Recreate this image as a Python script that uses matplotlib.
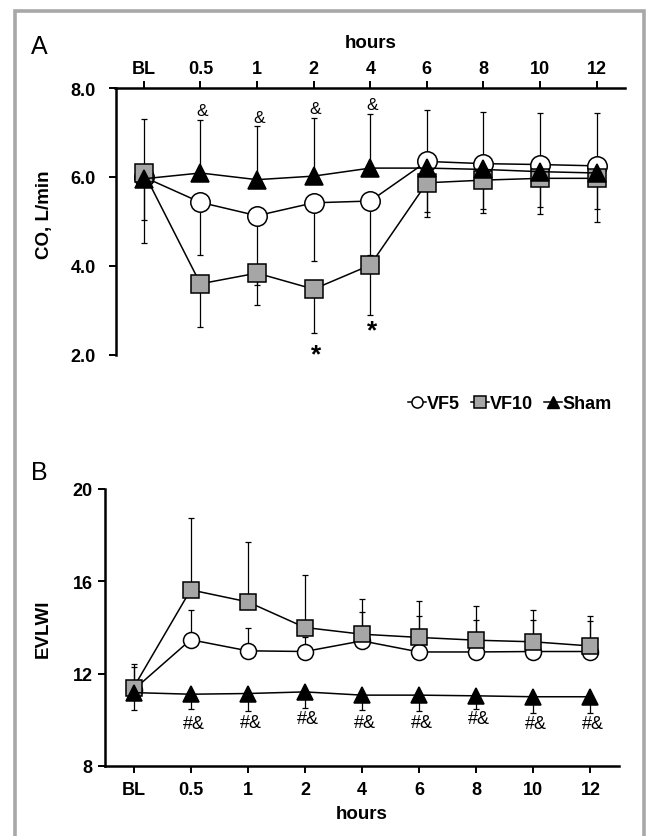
import matplotlib
matplotlib.use('Agg')
import matplotlib.pyplot as plt
from matplotlib.lines import Line2D
from matplotlib.patches import Rectangle

plt.rcParams['font.family'] = ['Liberation Sans', 'DejaVu Sans']

# time points
hours = ['BL', '0.5', '1', '2', '4', '6', '8', '10', '12']

# panel A: cardiac output (L/min)
co_vf5 = [6.00, 5.43, 5.13, 5.42, 5.46, 6.35, 6.30, 6.28, 6.25]
co_vf10 = [6.10, 3.60, 3.84, 3.48, 4.02, 5.87, 5.93, 5.97, 5.97]
co_sham = [5.96, 6.09, 5.94, 6.02, 6.20, 6.20, 6.17, 6.12, 6.09]
co_sham_top = [7.31, 7.27, 7.14, 7.33, 7.42, 7.50, 7.46, 7.44, 7.44]
co_vf5_bottom = [5.04, 4.24, 3.57, 4.12, 4.25, 5.10, 5.19, 5.17, 5.00]
co_vf10_bottom = [4.51, 2.62, 3.12, 2.49, 2.90, 5.21, 5.27, 5.32, 5.28]
co_amp_y = [7.50, 7.33, 7.53, 7.62]      # '&' at 0.5, 1, 2, 4 h
co_star_y = [2.02, 2.55]                 # '*' at 2, 4 h

# panel B: EVLWI
ev_vf5 = [11.30, 13.47, 12.99, 12.96, 13.42, 12.94, 12.94, 12.96, 12.96]
ev_vf10 = [11.40, 15.63, 15.11, 14.00, 13.71, 13.57, 13.45, 13.38, 13.20]
ev_sham = [11.18, 11.11, 11.14, 11.21, 11.07, 11.07, 11.04, 11.00, 11.00]
ev_vf5_top = [12.27, 14.77, 14.00, 13.60, 14.68, 14.50, 14.33, 14.32, 14.29]
ev_vf10_top = [12.44, 18.73, 17.72, 16.27, 15.23, 15.16, 14.91, 14.77, 14.51]
ev_sham_bottom = [10.43, 10.46, 10.39, 10.53, 10.41, 10.39, 10.49, 10.31, 10.31]
ev_mark_y = [9.85, 9.88, 10.05, 9.90, 9.90, 10.05, 9.85, 9.85]   # '#&' at 0.5..12 h

W, H = 647, 837
x = list(range(len(hours)))


def rect(l, t, r, b):
    return [l / W, 1 - b / H, (r - l) / W, (b - t) / H]


def draw(ax, y, lo, hi, marker, face, ms, z):
    ax.errorbar(x, y, yerr=[lo, hi], fmt='none', ecolor='black',
                elinewidth=0.9, capsize=2.2, capthick=0.9, zorder=1)
    ax.plot(x, y, '-', color='black', lw=1.1, marker=marker, ms=ms,
            mfc=face, mec='black', mew=1.1, zorder=z)


fig = plt.figure(figsize=(6.47, 8.37), dpi=100)
fig.patches.append(Rectangle((14.5 / W, -0.05), (643.5 - 14.5) / W, 1.05 - 11.5 / H,
                             transform=fig.transFigure, fill=False,
                             edgecolor='#a8a8a8', linewidth=2.6))

gray = '#a6a6a6'

# ---- panel A
axA = fig.add_axes(rect(115.5, 89, 625, 356))
zero = [0] * len(x)
draw(axA, co_vf5, [a - b for a, b in zip(co_vf5, co_vf5_bottom)], zero, 'o', 'white', 14, 3)
draw(axA, co_vf10, [a - b for a, b in zip(co_vf10, co_vf10_bottom)], zero, 's', gray, 13, 4)
draw(axA, co_sham, zero, [b - a for a, b in zip(co_sham, co_sham_top)], '^', 'black', 12.5, 5)

for i, yy in zip([1, 2, 3, 4], co_amp_y):
    axA.text(i + 0.03, yy, '&', ha='center', va='center', fontsize=12.5)
for i, yy in zip([3, 4], co_star_y):
    axA.text(i + 0.04, yy, '*', ha='center', va='center', fontsize=19, fontweight='bold')

axA.set_xlim(-0.5, 8.5)
axA.set_ylim(2, 8)
axA.set_yticks([2, 4, 6, 8])
axA.set_yticklabels(['2.0', '4.0', '6.0', '8.0'])
axA.set_xticks(x)
axA.set_xticklabels(hours)
axA.xaxis.tick_top()
axA.xaxis.set_label_position('top')
axA.set_xlabel('hours', fontsize=13.5, fontweight='bold', labelpad=9)
axA.set_ylabel('CO, L/min', fontsize=13.5, fontweight='bold')
axA.yaxis.set_label_coords(-0.123, 0.53)
for s in ['right', 'bottom']:
    axA.spines[s].set_visible(False)
for s in ['left', 'top']:
    axA.spines[s].set_linewidth(1.8)
axA.tick_params(axis='both', direction='out', length=5, width=1.4, labelsize=13)
axA.tick_params(axis='x', pad=3)
axA.tick_params(axis='y', pad=9)
for lab in axA.get_xticklabels() + axA.get_yticklabels():
    lab.set_fontweight('bold')

fig.text(39 / W, 1 - 47 / H, 'A', fontsize=18, ha='center', va='center')

handles = [
    Line2D([], [], color='black', lw=1.1, marker='o', ms=8, mfc='white', mec='black', mew=1.1),
    Line2D([], [], color='black', lw=1.1, marker='s', ms=8, mfc=gray, mec='black', mew=1.1),
    Line2D([], [], color='black', lw=1.1, marker='^', ms=8, mfc='black', mec='black'),
]
fig.legend(handles, ['VF5', 'VF10', 'Sham'], loc='center',
           bbox_to_anchor=(510 / W, 1 - 405 / H), ncol=3, frameon=False,
           handlelength=1.0, handletextpad=0.05, columnspacing=0.6,
           prop={'weight': 'bold', 'size': 13})

# ---- panel B
axB = fig.add_axes(rect(105, 490, 619, 767))
draw(axB, ev_vf5, zero, [b - a for a, b in zip(ev_vf5, ev_vf5_top)], 'o', 'white', 11.5, 3)
draw(axB, ev_vf10, zero, [b - a for a, b in zip(ev_vf10, ev_vf10_top)], 's', gray, 11.5, 4)
draw(axB, ev_sham, [a - b for a, b in zip(ev_sham, ev_sham_bottom)], zero, '^', 'black', 11.5, 5)

for i, yy in zip(x[1:], ev_mark_y):
    axB.text(i + 0.05, yy, '#&', ha='center', va='center', fontsize=13)

axB.set_xlim(-0.5, 8.5)
axB.set_ylim(8, 20)
axB.set_yticks([8, 12, 16, 20])
axB.set_xticks(x)
axB.set_xticklabels(hours)
axB.set_xlabel('hours', fontsize=13.5, fontweight='bold', labelpad=5)
axB.set_ylabel('EVLWI', fontsize=13.5, fontweight='bold')
axB.yaxis.set_label_coords(-0.103, 0.5)
for s in ['right', 'top']:
    axB.spines[s].set_visible(False)
for s in ['left', 'bottom']:
    axB.spines[s].set_linewidth(1.8)
axB.tick_params(axis='both', direction='out', length=5, width=1.4, labelsize=13)
axB.tick_params(axis='x', pad=6)
axB.tick_params(axis='y', pad=4)
for lab in axB.get_xticklabels() + axB.get_yticklabels():
    lab.set_fontweight('bold')

fig.text(39 / W, 1 - 473 / H, 'B', fontsize=18, ha='center', va='center')

fig.savefig('out.png', dpi=100)
